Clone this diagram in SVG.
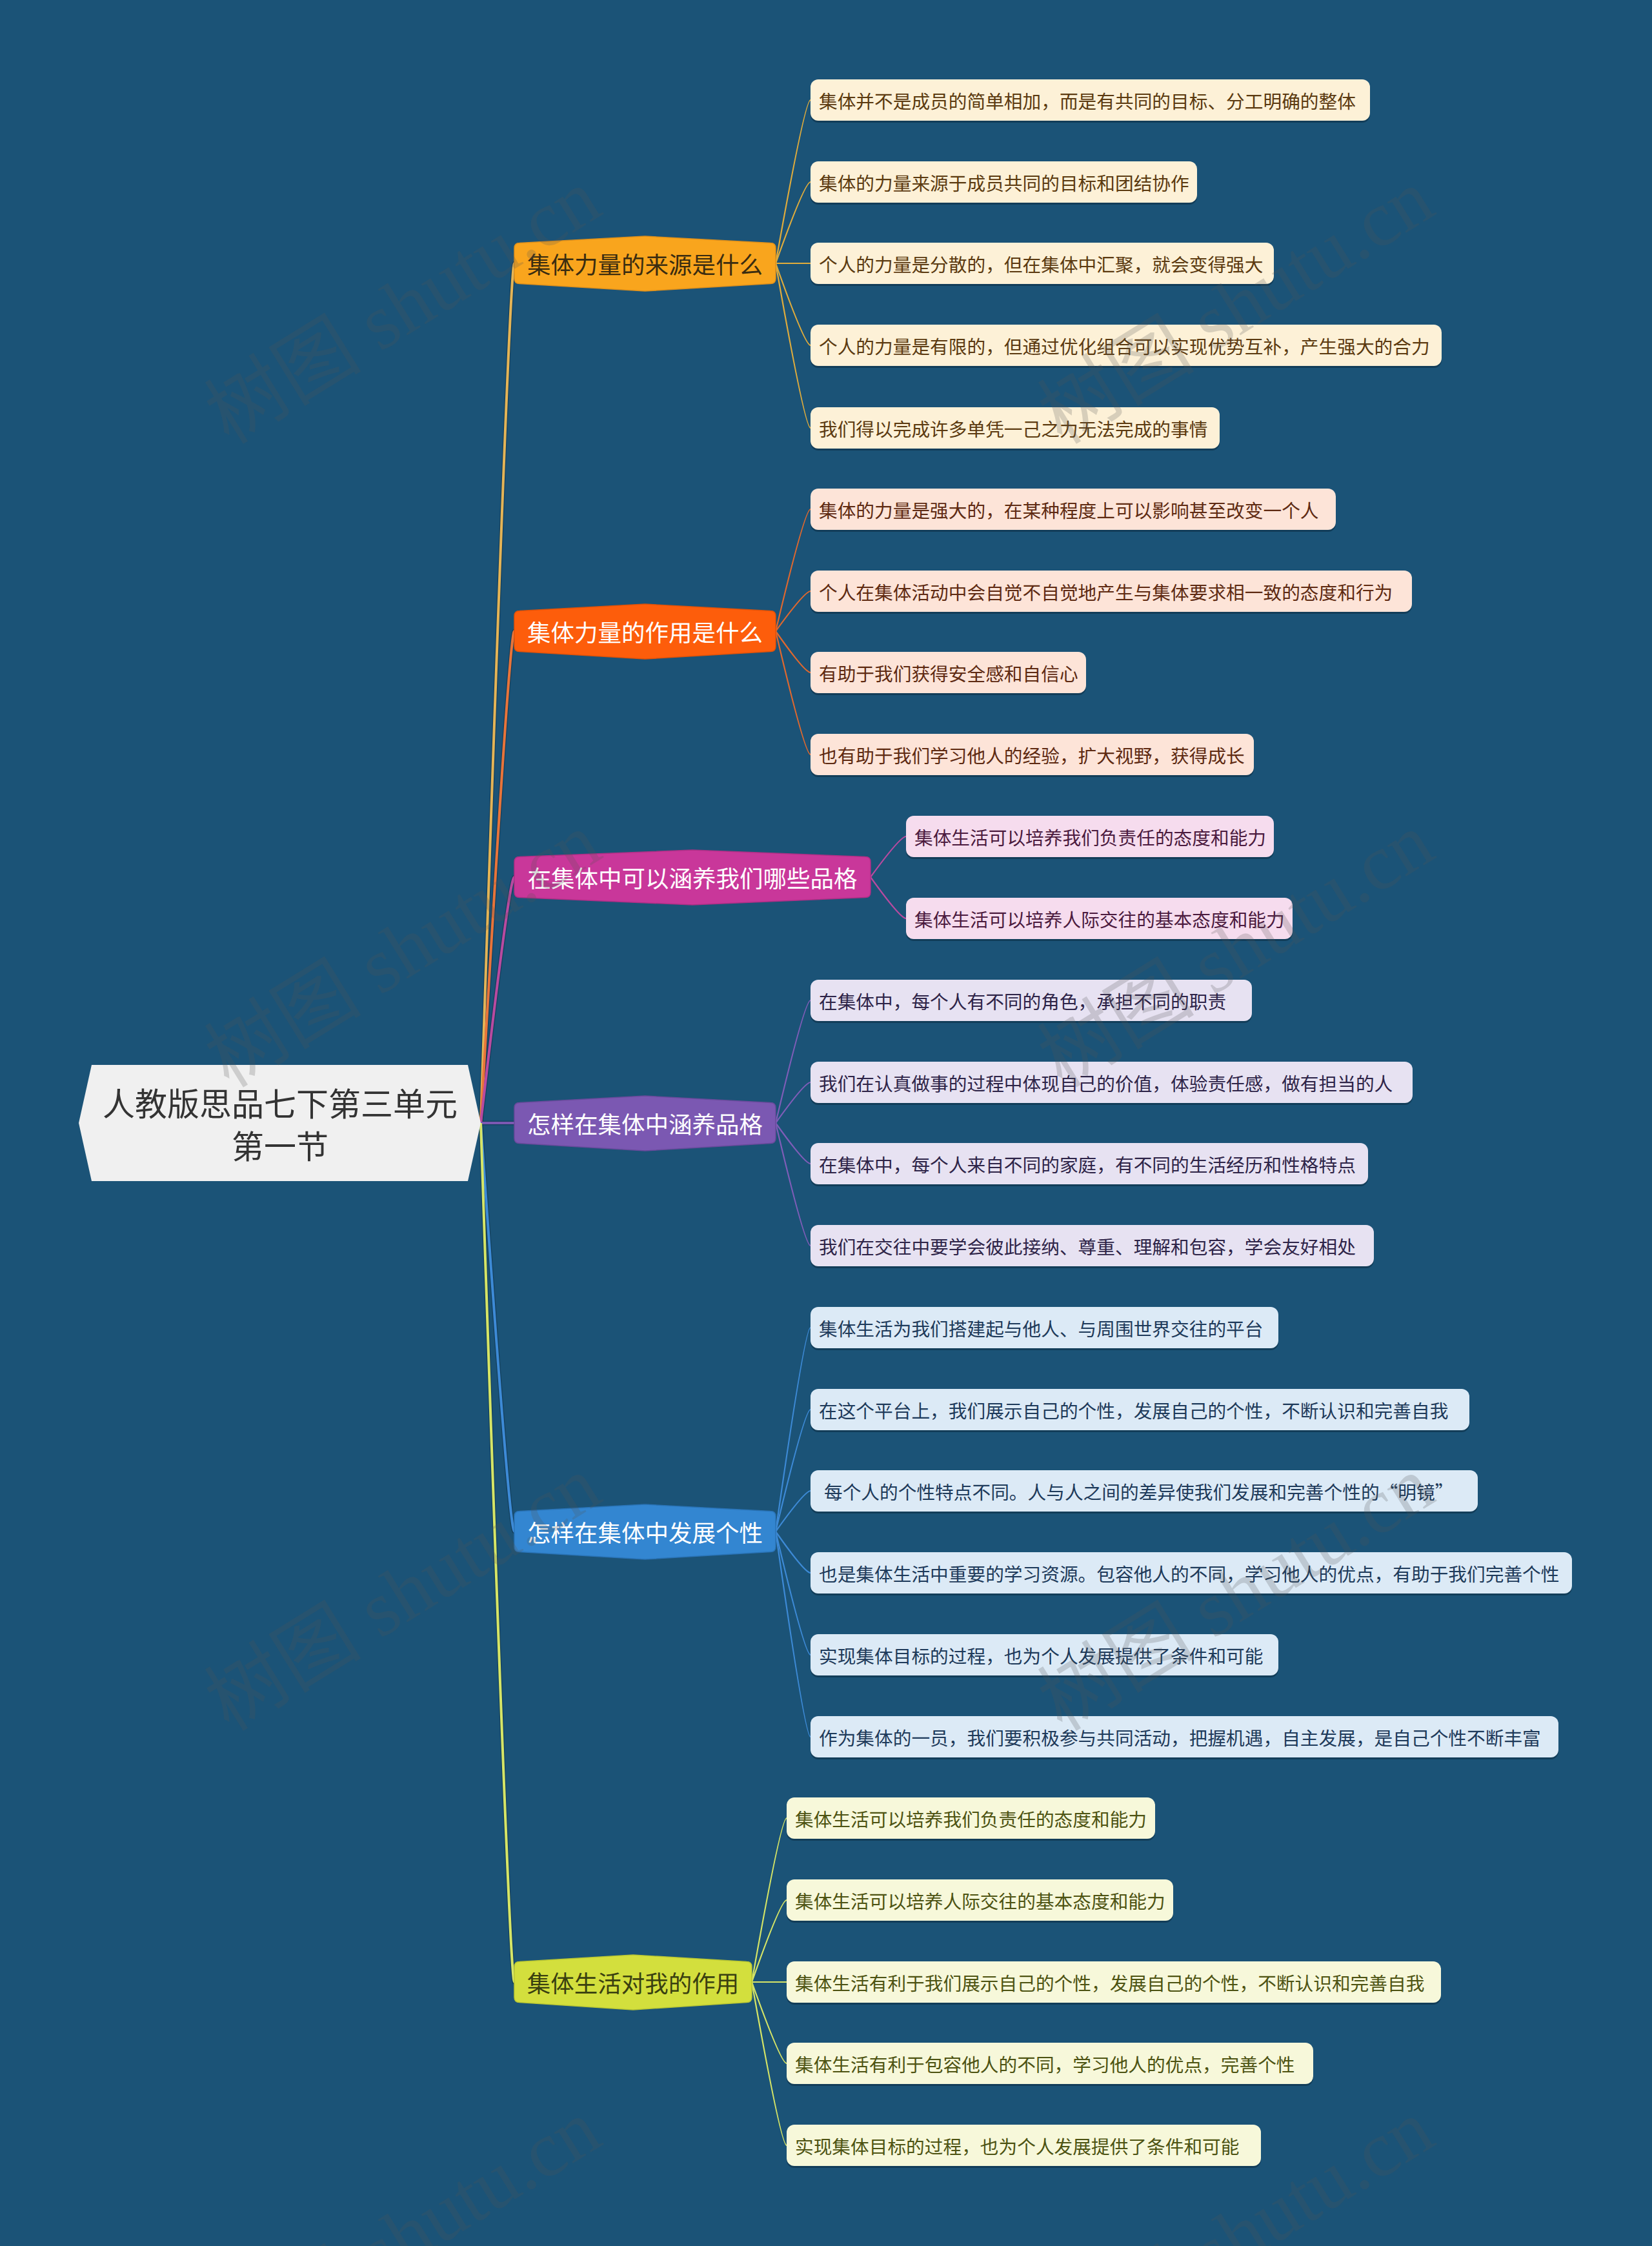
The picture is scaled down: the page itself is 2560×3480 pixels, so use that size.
<svg xmlns="http://www.w3.org/2000/svg" width="2560" height="3480" viewBox="0 0 2560 3480">
<style>
text{font-family:"Noto Sans CJK SC","Liberation Sans",sans-serif;dominant-baseline:central}
.leaf text{font-size:28.7px}
.leaf .sh{fill:#0b2c42;opacity:.55}
.main text{font-size:36.5px;text-anchor:middle}
.main path{stroke-width:1.5}
.c path{fill:none}
.rc{stroke-width:4}
.ro{stroke:#0c2f47;stroke-width:6.5;opacity:.55}
.lc{stroke-width:2.2}
.b1 rect.box{fill:#fdf1d7}.b1 text{fill:#5b3a10}
.b2 rect.box{fill:#fde4d8}.b2 text{fill:#5e2a12}
.b3 rect.box{fill:#f6dcee}.b3 text{fill:#4b1a3e}
.b4 rect.box{fill:#e7e2f2}.b4 text{fill:#2e2448}
.b5 rect.box{fill:#dceaf6}.b5 text{fill:#1e3a5a}
.b6 rect.box{fill:#f7f8da}.b6 text{fill:#4d5312}
.wm{font-family:"Liberation Serif","Noto Sans CJK SC",serif;font-size:122px;fill:#555;opacity:.22;dominant-baseline:alphabetic}
</style>
<rect x="0" y="0" width="2560" height="3480" fill="#1b5377"/>

<g id="connectors" class="c">
  <g id="root-links">
    <path class="ro" d="M745,1740 Q789,408 797,408"/>
    <path class="ro" d="M745,1740 Q789,978 797,978"/>
    <path class="ro" d="M745,1740 Q789,1359 797,1359"/>
    <path class="ro" d="M745,1740 L797,1740"/>
    <path class="ro" d="M745,1740 Q789,2373 797,2373"/>
    <path class="ro" d="M745,1740 Q789,3071 797,3071"/>
    <path class="rc" stroke="#e4b456" d="M745,1740 Q789,408 797,408"/>
    <path class="rc" stroke="#e8743a" d="M745,1740 Q789,978 797,978"/>
    <path class="rc" stroke="#b84aa0" d="M745,1740 Q789,1359 797,1359"/>
    <path class="rc" stroke="#7b58b2" d="M745,1740 L797,1740"/>
    <path class="rc" stroke="#3d8ad6" d="M745,1740 Q789,2373 797,2373"/>
    <path class="rc" stroke="#d6e566" d="M745,1740 Q789,3071 797,3071"/>
  </g>
  <g id="b1-links" stroke="#e0ac3c" class="lc">
    <path d="M1202,408 Q1247,155 1256,155"/>
    <path d="M1202,408 Q1247,282 1256,282"/>
    <path d="M1202,408 L1256,408"/>
    <path d="M1202,408 Q1247,535 1256,535"/>
    <path d="M1202,408 Q1247,663 1256,663"/>
  </g>
  <g id="b2-links" stroke="#e0682e" class="lc">
    <path d="M1202,978 Q1247,789 1256,789"/>
    <path d="M1202,978 Q1247,916 1256,916"/>
    <path d="M1202,978 Q1247,1042 1256,1042"/>
    <path d="M1202,978 Q1247,1169 1256,1169"/>
  </g>
  <g id="b3-links" stroke="#b84aa0" class="lc">
    <path d="M1349,1359 Q1395,1296 1404,1296"/>
    <path d="M1349,1359 Q1395,1423 1404,1423"/>
  </g>
  <g id="b4-links" stroke="#7f5db8" class="lc">
    <path d="M1202,1740 Q1247,1550 1256,1550"/>
    <path d="M1202,1740 Q1247,1677 1256,1677"/>
    <path d="M1202,1740 Q1247,1803 1256,1803"/>
    <path d="M1202,1740 Q1247,1930 1256,1930"/>
  </g>
  <g id="b5-links" stroke="#3d8ad6" class="lc">
    <path d="M1202,2373 Q1247,2057 1256,2057"/>
    <path d="M1202,2373 Q1247,2184 1256,2184"/>
    <path d="M1202,2373 Q1247,2310 1256,2310"/>
    <path d="M1202,2373 Q1247,2437 1256,2437"/>
    <path d="M1202,2373 Q1247,2564 1256,2564"/>
    <path d="M1202,2373 Q1247,2691 1256,2691"/>
  </g>
  <g id="b6-links" stroke="#d6e566" class="lc">
    <path d="M1165,3071 Q1210,2817 1219,2817"/>
    <path d="M1165,3071 Q1210,2944 1219,2944"/>
    <path d="M1165,3071 L1219,3071"/>
    <path d="M1165,3071 Q1210,3197 1219,3197"/>
    <path d="M1165,3071 Q1210,3324 1219,3324"/>
  </g>
</g>

<g id="root">
  <polygon points="122,1740 142,1650 725,1650 745,1740 725,1830 142,1830" fill="#f0f0f0"/>
  <text x="434" y="1707" font-size="50" text-anchor="middle" fill="#333333">人教版思品七下第三单元</text>
  <text x="434" y="1773" font-size="50" text-anchor="middle" fill="#333333">第一节</text>
</g>

<g id="b1" class="main" transform="translate(0,408)">
  <path d="M805,-31.5 L999.5,-42 L1194,-31.5 Q1202,-31.5 1202,-23.5 L1202,23.5 Q1202,31.5 1194,31.5 L999.5,43 L805,31.5 Q797,31.5 797,23.5 L797,-23.5 Q797,-31.5 805,-31.5 Z" fill="#f9a51d" stroke="#e0901a"/>
  <text x="999.5" y="0" fill="#3a2c10">集体力量的来源是什么</text>
</g>
<g id="b2" class="main" transform="translate(0,978)">
  <path d="M805,-31.5 L999.5,-42 L1194,-31.5 Q1202,-31.5 1202,-23.5 L1202,23.5 Q1202,31.5 1194,31.5 L999.5,43 L805,31.5 Q797,31.5 797,23.5 L797,-23.5 Q797,-31.5 805,-31.5 Z" fill="#fd5d0b" stroke="#e25208"/>
  <text x="999.5" y="0" fill="#ffffff">集体力量的作用是什么</text>
</g>
<g id="b3" class="main" transform="translate(0,1359)">
  <path d="M805,-31.5 L1073,-42 L1341,-31.5 Q1349,-31.5 1349,-23.5 L1349,23.5 Q1349,31.5 1341,31.5 L1073,43 L805,31.5 Q797,31.5 797,23.5 L797,-23.5 Q797,-31.5 805,-31.5 Z" fill="#c9379a" stroke="#b02f86"/>
  <text x="1073" y="0" fill="#ffffff">在集体中可以涵养我们哪些品格</text>
</g>
<g id="b4" class="main" transform="translate(0,1740)">
  <path d="M805,-31.5 L999.5,-42 L1194,-31.5 Q1202,-31.5 1202,-23.5 L1202,23.5 Q1202,31.5 1194,31.5 L999.5,43 L805,31.5 Q797,31.5 797,23.5 L797,-23.5 Q797,-31.5 805,-31.5 Z" fill="#7b58b2" stroke="#6a4a9c"/>
  <text x="999.5" y="0" fill="#ffffff">怎样在集体中涵养品格</text>
</g>
<g id="b5" class="main" transform="translate(0,2373)">
  <path d="M805,-31.5 L999.5,-42 L1194,-31.5 Q1202,-31.5 1202,-23.5 L1202,23.5 Q1202,31.5 1194,31.5 L999.5,43 L805,31.5 Q797,31.5 797,23.5 L797,-23.5 Q797,-31.5 805,-31.5 Z" fill="#3386d1" stroke="#2a74b8"/>
  <text x="999.5" y="0" fill="#ffffff">怎样在集体中发展个性</text>
</g>
<g id="b6" class="main" transform="translate(0,3071)">
  <path d="M805,-31.5 L981,-42 L1157,-31.5 Q1165,-31.5 1165,-23.5 L1165,23.5 Q1165,31.5 1157,31.5 L981,43 L805,31.5 Q797,31.5 797,23.5 L797,-23.5 Q797,-31.5 805,-31.5 Z" fill="#d3df3d" stroke="#bcc832"/>
  <text x="981" y="0" fill="#3a4010">集体生活对我的作用</text>
</g>

<g id="b1-leaves" class="b1">
  <g id="b1-l1" class="leaf"><rect class="sh" x="1256" y="126" width="867" height="64" rx="12"/><rect class="box" x="1256" y="123" width="867" height="64" rx="12"/><text x="1269" y="155">集体并不是成员的简单相加，而是有共同的目标、分工明确的整体</text></g>
  <g id="b1-l2" class="leaf"><rect class="sh" x="1256" y="253" width="599" height="64" rx="12"/><rect class="box" x="1256" y="250" width="599" height="64" rx="12"/><text x="1269" y="282">集体的力量来源于成员共同的目标和团结协作</text></g>
  <g id="b1-l3" class="leaf"><rect class="sh" x="1256" y="379" width="718" height="64" rx="12"/><rect class="box" x="1256" y="376" width="718" height="64" rx="12"/><text x="1269" y="408">个人的力量是分散的，但在集体中汇聚，就会变得强大</text></g>
  <g id="b1-l4" class="leaf"><rect class="sh" x="1256" y="506" width="978" height="64" rx="12"/><rect class="box" x="1256" y="503" width="978" height="64" rx="12"/><text x="1269" y="535">个人的力量是有限的，但通过优化组合可以实现优势互补，产生强大的合力</text></g>
  <g id="b1-l5" class="leaf"><rect class="sh" x="1256" y="634" width="634" height="64" rx="12"/><rect class="box" x="1256" y="631" width="634" height="64" rx="12"/><text x="1269" y="663">我们得以完成许多单凭一己之力无法完成的事情</text></g>
</g>

<g id="b2-leaves" class="b2">
  <g id="b2-l1" class="leaf"><rect class="sh" x="1256" y="760" width="814" height="64" rx="12"/><rect class="box" x="1256" y="757" width="814" height="64" rx="12"/><text x="1269" y="789">集体的力量是强大的，在某种程度上可以影响甚至改变一个人</text></g>
  <g id="b2-l2" class="leaf"><rect class="sh" x="1256" y="887" width="932" height="64" rx="12"/><rect class="box" x="1256" y="884" width="932" height="64" rx="12"/><text x="1269" y="916">个人在集体活动中会自觉不自觉地产生与集体要求相一致的态度和行为</text></g>
  <g id="b2-l3" class="leaf"><rect class="sh" x="1256" y="1013" width="427" height="64" rx="12"/><rect class="box" x="1256" y="1010" width="427" height="64" rx="12"/><text x="1269" y="1042">有助于我们获得安全感和自信心</text></g>
  <g id="b2-l4" class="leaf"><rect class="sh" x="1256" y="1140" width="687" height="64" rx="12"/><rect class="box" x="1256" y="1137" width="687" height="64" rx="12"/><text x="1269" y="1169">也有助于我们学习他人的经验，扩大视野，获得成长</text></g>
</g>

<g id="b3-leaves" class="b3">
  <g id="b3-l1" class="leaf"><rect class="sh" x="1404" y="1267" width="570" height="64" rx="12"/><rect class="box" x="1404" y="1264" width="570" height="64" rx="12"/><text x="1417" y="1296">集体生活可以培养我们负责任的态度和能力</text></g>
  <g id="b3-l2" class="leaf"><rect class="sh" x="1404" y="1394" width="599" height="64" rx="12"/><rect class="box" x="1404" y="1391" width="599" height="64" rx="12"/><text x="1417" y="1423">集体生活可以培养人际交往的基本态度和能力</text></g>
</g>

<g id="b4-leaves" class="b4">
  <g id="b4-l1" class="leaf"><rect class="sh" x="1256" y="1521" width="684" height="64" rx="12"/><rect class="box" x="1256" y="1518" width="684" height="64" rx="12"/><text x="1269" y="1550">在集体中，每个人有不同的角色，承担不同的职责</text></g>
  <g id="b4-l2" class="leaf"><rect class="sh" x="1256" y="1648" width="933" height="64" rx="12"/><rect class="box" x="1256" y="1645" width="933" height="64" rx="12"/><text x="1269" y="1677">我们在认真做事的过程中体现自己的价值，体验责任感，做有担当的人</text></g>
  <g id="b4-l3" class="leaf"><rect class="sh" x="1256" y="1774" width="864" height="64" rx="12"/><rect class="box" x="1256" y="1771" width="864" height="64" rx="12"/><text x="1269" y="1803">在集体中，每个人来自不同的家庭，有不同的生活经历和性格特点</text></g>
  <g id="b4-l4" class="leaf"><rect class="sh" x="1256" y="1901" width="873" height="64" rx="12"/><rect class="box" x="1256" y="1898" width="873" height="64" rx="12"/><text x="1269" y="1930">我们在交往中要学会彼此接纳、尊重、理解和包容，学会友好相处</text></g>
</g>

<g id="b5-leaves" class="b5">
  <g id="b5-l1" class="leaf"><rect class="sh" x="1256" y="2028" width="725" height="64" rx="12"/><rect class="box" x="1256" y="2025" width="725" height="64" rx="12"/><text x="1269" y="2057">集体生活为我们搭建起与他人、与周围世界交往的平台</text></g>
  <g id="b5-l2" class="leaf"><rect class="sh" x="1256" y="2155" width="1021" height="64" rx="12"/><rect class="box" x="1256" y="2152" width="1021" height="64" rx="12"/><text x="1269" y="2184">在这个平台上，我们展示自己的个性，发展自己的个性，不断认识和完善自我</text></g>
  <g id="b5-l3" class="leaf"><rect class="sh" x="1256" y="2281" width="1034" height="64" rx="12"/><rect class="box" x="1256" y="2278" width="1034" height="64" rx="12"/><text x="1277" y="2310">每个人的个性特点不同。人与人之间的差异使我们发展和完善个性的“明镜”</text></g>
  <g id="b5-l4" class="leaf"><rect class="sh" x="1256" y="2408" width="1180" height="64" rx="12"/><rect class="box" x="1256" y="2405" width="1180" height="64" rx="12"/><text x="1269" y="2437">也是集体生活中重要的学习资源。包容他人的不同，学习他人的优点，有助于我们完善个性</text></g>
  <g id="b5-l5" class="leaf"><rect class="sh" x="1256" y="2535" width="725" height="64" rx="12"/><rect class="box" x="1256" y="2532" width="725" height="64" rx="12"/><text x="1269" y="2564">实现集体目标的过程，也为个人发展提供了条件和可能</text></g>
  <g id="b5-l6" class="leaf"><rect class="sh" x="1256" y="2662" width="1159" height="64" rx="12"/><rect class="box" x="1256" y="2659" width="1159" height="64" rx="12"/><text x="1269" y="2691">作为集体的一员，我们要积极参与共同活动，把握机遇，自主发展，是自己个性不断丰富</text></g>
</g>

<g id="b6-leaves" class="b6">
  <g id="b6-l1" class="leaf"><rect class="sh" x="1219" y="2788" width="571" height="64" rx="12"/><rect class="box" x="1219" y="2785" width="571" height="64" rx="12"/><text x="1232" y="2817">集体生活可以培养我们负责任的态度和能力</text></g>
  <g id="b6-l2" class="leaf"><rect class="sh" x="1219" y="2915" width="599" height="64" rx="12"/><rect class="box" x="1219" y="2912" width="599" height="64" rx="12"/><text x="1232" y="2944">集体生活可以培养人际交往的基本态度和能力</text></g>
  <g id="b6-l3" class="leaf"><rect class="sh" x="1219" y="3042" width="1014" height="64" rx="12"/><rect class="box" x="1219" y="3039" width="1014" height="64" rx="12"/><text x="1232" y="3071">集体生活有利于我们展示自己的个性，发展自己的个性，不断认识和完善自我</text></g>
  <g id="b6-l4" class="leaf"><rect class="sh" x="1219" y="3168" width="816" height="64" rx="12"/><rect class="box" x="1219" y="3165" width="816" height="64" rx="12"/><text x="1232" y="3197">集体生活有利于包容他人的不同，学习他人的优点，完善个性</text></g>
  <g id="b6-l5" class="leaf"><rect class="sh" x="1219" y="3295" width="735" height="64" rx="12"/><rect class="box" x="1219" y="3292" width="735" height="64" rx="12"/><text x="1232" y="3324">实现集体目标的过程，也为个人发展提供了条件和可能</text></g>
</g>

<g id="watermarks">
  <text class="wm" x="355" y="690" transform="rotate(-31.7 355 690)">树图 shutu.cn</text>
  <text class="wm" x="1646" y="690" transform="rotate(-31.7 1646 690)">树图 shutu.cn</text>
  <text class="wm" x="355" y="1687" transform="rotate(-31.7 355 1687)">树图 shutu.cn</text>
  <text class="wm" x="1646" y="1687" transform="rotate(-31.7 1646 1687)">树图 shutu.cn</text>
  <text class="wm" x="355" y="2684" transform="rotate(-31.7 355 2684)">树图 shutu.cn</text>
  <text class="wm" x="1646" y="2684" transform="rotate(-31.7 1646 2684)">树图 shutu.cn</text>
  <text class="wm" x="355" y="3681" transform="rotate(-31.7 355 3681)">树图 shutu.cn</text>
  <text class="wm" x="1646" y="3681" transform="rotate(-31.7 1646 3681)">树图 shutu.cn</text>
</g>
</svg>
